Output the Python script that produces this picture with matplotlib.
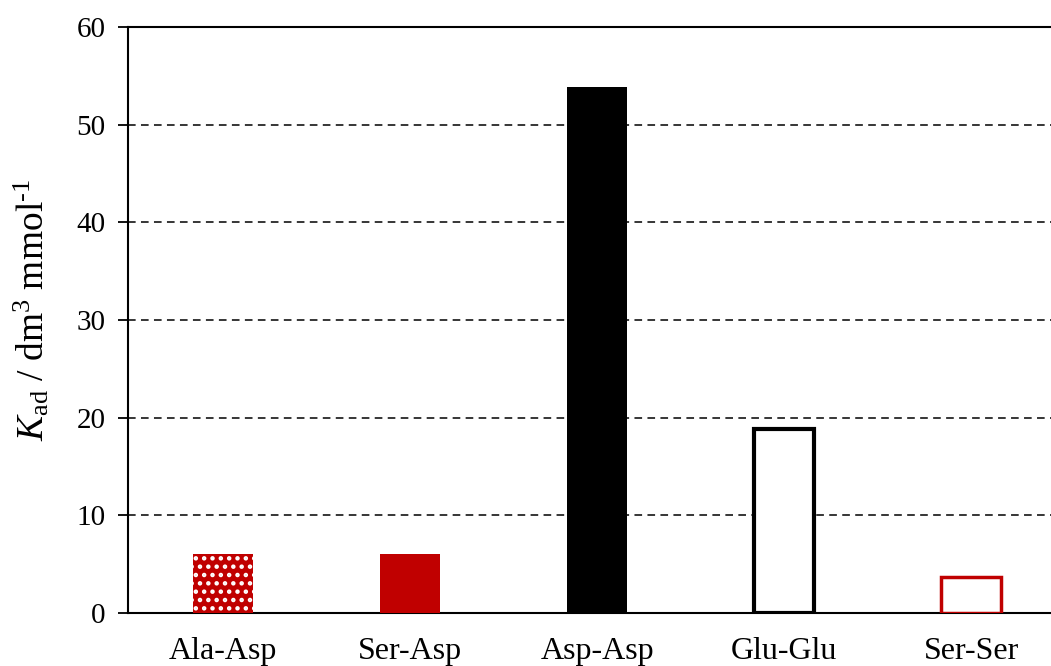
import matplotlib
matplotlib.use('Agg')
import matplotlib.pyplot as plt

plt.rcParams['font.family'] = ['Liberation Serif', 'DejaVu Serif']
plt.rcParams['mathtext.fontset'] = 'custom'
plt.rcParams['mathtext.rm'] = 'Liberation Serif'
plt.rcParams['mathtext.it'] = 'Liberation Serif:italic'
plt.rcParams['hatch.linewidth'] = 2.0

categories = ['Ala-Asp', 'Ser-Asp', 'Asp-Asp', 'Glu-Glu', 'Ser-Ser']
kad_values = [6.0, 6.0, 53.9, 18.8, 3.7]
yticks = [0, 10, 20, 30, 40, 50, 60]

red = '#c00000'

fig = plt.figure(figsize=(10.51, 6.66), dpi=100)
# axes runs past the right edge of the picture, like in the original
ax = fig.add_axes([128 / 1051, 53 / 666, 935 / 1051, 586 / 666])

x = list(range(len(categories)))
w = 0.32

# Ala-Asp: red with white dots
ax.bar(x[0], kad_values[0], width=w, color=red, edgecolor='white',
       linewidth=0, hatch='..', zorder=3)
ax.bar(x[1], kad_values[1], width=w, color=red, linewidth=0, zorder=3)
ax.bar(x[2], kad_values[2], width=w, color='black', linewidth=0, zorder=3)
ax.bar(x[3], kad_values[3], width=w, color='white', edgecolor='black',
       linewidth=3, zorder=3)
ax.bar(x[4], kad_values[4], width=w, color='white', edgecolor=red,
       linewidth=2.5, zorder=3)

ax.set_xlim(-0.51, len(categories) - 0.51)
ax.set_ylim(0, 60)
ax.set_yticks(yticks)
ax.yaxis.grid(True, linestyle=(0, (5, 3.5)), color='black', linewidth=1.1, zorder=0)
ax.set_axisbelow(True)

ax.set_xticks(x)
ax.set_xticklabels(categories, fontsize=23)
ax.tick_params(axis='x', length=0, pad=17)
ax.tick_params(axis='y', length=7, width=1.3, labelsize=21, direction='out', pad=9)

for s in ['left', 'bottom', 'top']:
    ax.spines[s].set_linewidth(1.5)
ax.spines['right'].set_visible(False)

ax.set_ylabel(r'$K_{\mathrm{ad}}$ / dm$^{3}$ mmol$^{\mathrm{\text{-}1}}$', fontsize=27)
ax.yaxis.set_label_coords(-0.082, 0.518)

fig.savefig('out.png', dpi=100)
